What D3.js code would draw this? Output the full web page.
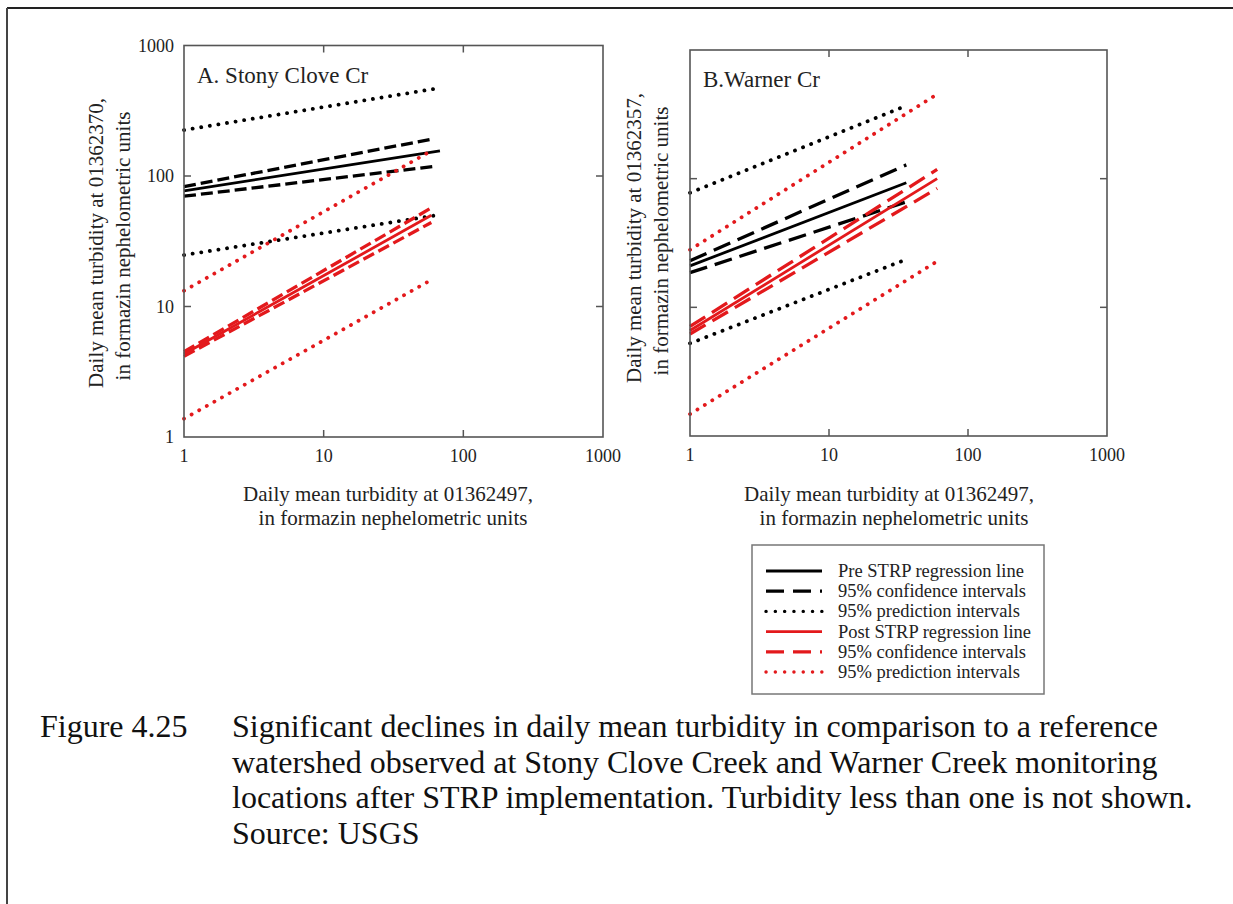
<!DOCTYPE html>
<html>
<head>
<meta charset="utf-8">
<script src="https://cdn.jsdelivr.net/npm/d3@7"></script>
<style>
  html, body { margin: 0; padding: 0; background: #fff; }
  svg text { font-family: "Liberation Serif", "Times New Roman", serif; fill: #222; }
</style>
</head>
<body>
<div id="chart"></div>
<script>
// tick values (both axes, log scale)
const xTicks = [1, 10, 100, 1000]
const yTicks = [1, 10, 100, 1000]

// A. Stony Clove Cr  -- each line is [start, end] in turbidity units
const stonyLines = [
    { group: "pre", kind: "pi", pts: [[1, 225], [61, 464]] },
    { group: "pre", kind: "pi", pts: [[1, 24.8], [61, 49.6]] },
    { group: "pre", kind: "ci", pts: [[1, 83], [60, 192]] },
    { group: "pre", kind: "ci", pts: [[1, 70], [60, 118]] },
    { group: "pre", kind: "fit", pts: [[1, 77], [68, 156]] },
    { group: "post", kind: "pi", pts: [[1, 13.2], [59, 156]] },
    { group: "post", kind: "pi", pts: [[1, 1.38], [59, 16]] },
    { group: "post", kind: "ci", pts: [[1, 4.5], [59, 57]] },
    { group: "post", kind: "ci", pts: [[1, 4.15], [59, 44]] },
    { group: "post", kind: "fit", pts: [[1, 4.33], [59, 50]] }
]

// B. Warner Cr
const warnerLines = [
    { group: "pre", kind: "pi", pts: [[1, 77.7], [33.5, 358]] },
    { group: "pre", kind: "pi", pts: [[1, 5.25], [33.5, 22.9]] },
    { group: "pre", kind: "ci", pts: [[1, 23], [36, 128]] },
    { group: "pre", kind: "ci", pts: [[1, 18.6], [36, 66]] },
    { group: "pre", kind: "fit", pts: [[1, 21], [36, 93]] },
    { group: "post", kind: "pi", pts: [[1, 28], [58.5, 446]] },
    { group: "post", kind: "pi", pts: [[1, 1.48], [58.5, 22.4]] },
    { group: "post", kind: "ci", pts: [[1, 7.1], [60, 118]] },
    { group: "post", kind: "ci", pts: [[1, 6.2], [60, 84]] },
    { group: "post", kind: "fit", pts: [[1, 6.6], [60, 100]] }
]

const legendItems = [
    { group: "pre", kind: "fit", label: "Pre STRP regression line" },
    { group: "pre", kind: "ci", label: "95% confidence intervals" },
    { group: "pre", kind: "pi", label: "95% prediction intervals" },
    { group: "post", kind: "fit", label: "Post STRP regression line" },
    { group: "post", kind: "ci", label: "95% confidence intervals" },
    { group: "post", kind: "pi", label: "95% prediction intervals" }
]

const captionLines = [
    "Significant declines in daily mean turbidity in comparison to a reference",
    "watershed observed at Stony Clove Creek and Warner Creek monitoring",
    "locations after STRP implementation. Turbidity less than one is not shown.",
    "Source: USGS"
]

const colors = { pre: "#000000", post: "#e3191c" }

const W = 1233, H = 904

let svg = d3.select("#chart").append("svg")
    .attr("width", W)
    .attr("height", H)

// outer page frame (top and left edges only show)
svg.append("line").attr("x1", 7).attr("x2", W).attr("y1", 8).attr("y2", 8)
    .attr("stroke", "#222").attr("stroke-width", 2)
svg.append("line").attr("x1", 7).attr("x2", 7).attr("y1", 8).attr("y2", H)
    .attr("stroke", "#444").attr("stroke-width", 2)

function styleLine(sel, d, dash) {
    sel.attr("stroke", colors[d.group]).attr("fill", "none")
    if (d.kind === "fit") {
        sel.attr("stroke-width", 2.8)
    } else if (d.kind === "ci") {
        sel.attr("stroke-width", 3.3).attr("stroke-dasharray", dash)
    } else {
        sel.attr("stroke-width", 3.8)
            .attr("stroke-linecap", "round")
            .attr("stroke-dasharray", "0.1,8.6")
    }
}

function drawPanel(cfg) {
    let x = d3.scaleLog().domain([1, 1000]).range([cfg.left, cfg.right])
    let y = d3.scaleLog().domain([1, 1000]).range([cfg.bottom, cfg.top])
    let g = svg.append("g")

    // lines, black first so red sits on top
    let line = d3.line().x(d => x(d[0])).y(d => y(d[1]))
    let sorted = cfg.lines.filter(d => d.group === "pre").concat(cfg.lines.filter(d => d.group === "post"))
    sorted.forEach(function (d) {
        let p = g.append("path").attr("d", line(d.pts))
        styleLine(p, d, cfg.dash)
    })

    // frame
    g.append("rect")
        .attr("x", cfg.left).attr("y", cfg.top)
        .attr("width", cfg.right - cfg.left).attr("height", cfg.bottom - cfg.top)
        .attr("fill", "none").attr("stroke", "#555").attr("stroke-width", 1.6)

    // inward ticks on all four sides
    let inner = [10, 100]
    let tk = 7
    inner.forEach(function (v) {
        g.append("line").attr("x1", x(v)).attr("x2", x(v)).attr("y1", cfg.bottom).attr("y2", cfg.bottom - tk)
        g.append("line").attr("x1", x(v)).attr("x2", x(v)).attr("y1", cfg.top).attr("y2", cfg.top + tk)
        g.append("line").attr("y1", y(v)).attr("y2", y(v)).attr("x1", cfg.left).attr("x2", cfg.left + tk)
        g.append("line").attr("y1", y(v)).attr("y2", y(v)).attr("x1", cfg.right).attr("x2", cfg.right - tk)
    })
    g.selectAll("line").attr("stroke", "#555").attr("stroke-width", 1.5)

    // tick labels
    g.selectAll(".xlab").data(xTicks).enter().append("text")
        .attr("class", "xlab")
        .attr("x", d => x(d)).attr("y", cfg.bottom + 25)
        .attr("text-anchor", "middle")
        .style("font-size", "18px")
        .text(d => d)
    if (cfg.yLabels) {
        g.selectAll(".ylab").data(yTicks).enter().append("text")
            .attr("class", "ylab")
            .attr("x", cfg.left - 10).attr("y", d => y(d) + 6)
            .attr("text-anchor", "end")
            .style("font-size", "18px")
            .text(d => d)
    }

    // panel title
    g.append("text")
        .attr("x", cfg.left + 13).attr("y", cfg.top + 37)
        .style("font-size", "23px")
        .text(cfg.title)

    // x axis title
    g.append("text").attr("x", cfg.xTitleX).attr("y", 501)
        .attr("text-anchor", "middle").style("font-size", "21px")
        .text("Daily mean turbidity at 01362497,")
    g.append("text").attr("x", cfg.xTitleX + 5).attr("y", 525)
        .attr("text-anchor", "middle").style("font-size", "21px")
        .text("in formazin nephelometric units")

    // y axis title
    let yt = g.append("g").attr("transform", "translate(" + cfg.yTitleX + "," + cfg.yTitleY + ") rotate(-90)")
    yt.append("text").attr("x", 0).attr("y", 0)
        .attr("text-anchor", "middle").style("font-size", "21px")
        .text(cfg.yTitle)
    yt.append("text").attr("x", -3).attr("y", 26.5)
        .attr("text-anchor", "middle").style("font-size", "21px")
        .text("in formazin nephelometric units")
}

drawPanel({
    left: 184, right: 603, top: 45.5, bottom: 437,
    lines: stonyLines, dash: "12,5", yLabels: true,
    title: "A. Stony Clove Cr",
    xTitleX: 388, yTitleX: 103, yTitleY: 243,
    yTitle: "Daily mean turbidity at 01362370,"
})

drawPanel({
    left: 690, right: 1107, top: 50, bottom: 436,
    lines: warnerLines, dash: "18,8", yLabels: false,
    title: "B.Warner Cr",
    xTitleX: 889, yTitleX: 641, yTitleY: 238,
    yTitle: "Daily mean turbidity at 01362357,"
})

// legend
let lg = svg.append("g")
lg.append("rect").attr("x", 752).attr("y", 545).attr("width", 292).attr("height", 149)
    .attr("fill", "#fff").attr("stroke", "#777").attr("stroke-width", 1.5)
let ly = d3.scalePoint().domain(d3.range(legendItems.length)).range([571, 672])
legendItems.forEach(function (d, i) {
    let p = lg.append("line")
        .attr("x1", 766).attr("x2", 822)
        .attr("y1", ly(i)).attr("y2", ly(i))
    styleLine(p, d, "18,9")
    if (d.kind === "pi") p.attr("stroke-dasharray", "0.1,9.2").attr("stroke-width", 3.4)
    lg.append("text").attr("x", 838).attr("y", ly(i) + 6)
        .style("font-size", "18.5px")
        .text(d.label)
})

// caption
let cap = svg.append("g")
cap.append("text").attr("x", 40).attr("y", 737)
    .style("font-size", "32px").style("fill", "#111")
    .text("Figure 4.25")
cap.selectAll(".capline").data(captionLines).enter().append("text")
    .attr("class", "capline")
    .attr("x", 232).attr("y", (d, i) => 737 + i * 35.7)
    .style("font-size", "32px").style("fill", "#111")
    .text(d => d)
</script>
</body>
</html>
